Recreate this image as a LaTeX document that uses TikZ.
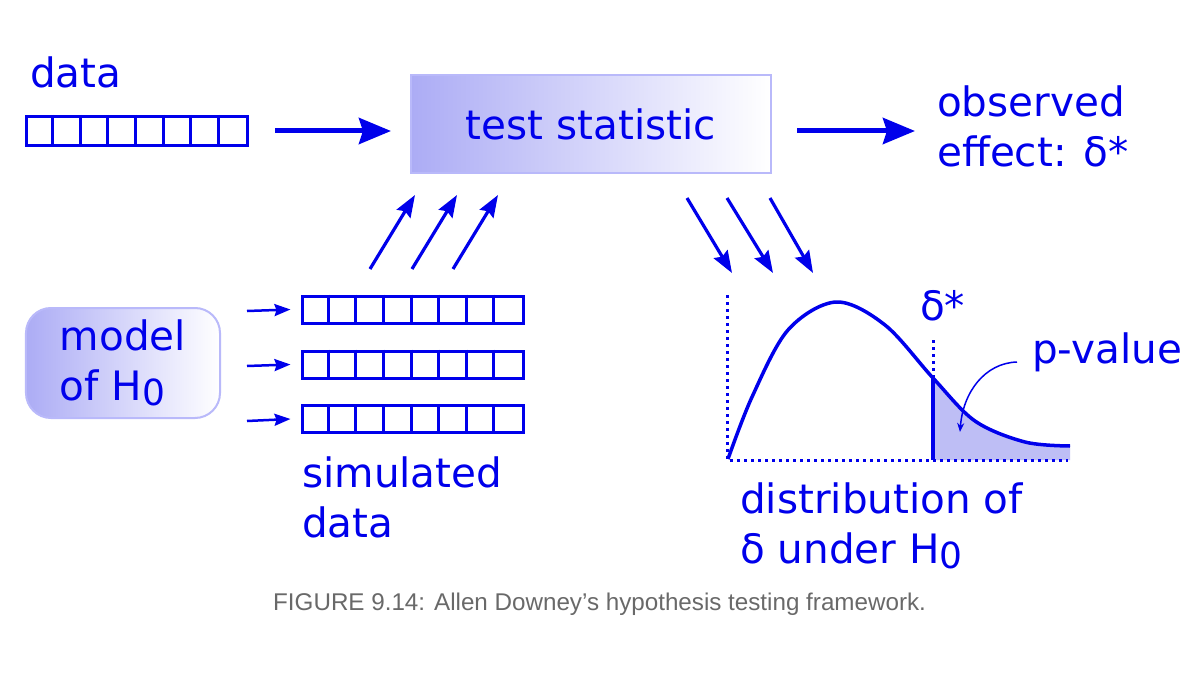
\documentclass[tikz,border=0pt]{standalone}
\usepackage{fontspec}
\setmainfont{DejaVu Sans}
\newfontfamily\capfont{Liberation Sans}
\usetikzlibrary{arrows.meta}
\definecolor{lineblue}{RGB}{0,0,235}
\definecolor{boxleft}{RGB}{172,172,245}
\definecolor{boxedge}{RGB}{185,185,250}
\definecolor{tailfill}{RGB}{190,190,245}
\definecolor{capgray}{RGB}{105,105,105}
\newcommand{\Hzero}{H\raisebox{-5bp}{\fontsize{36bp}{40bp}\selectfont 0}}
\begin{document}
\begin{tikzpicture}[x=1bp,y=-1bp,
  txt/.style={text=lineblue, font=\fontsize{40.5bp}{50bp}\selectfont, inner sep=0pt, anchor=base west, align=left},
  cellrow/.style={draw=lineblue, line width=3bp, minimum width=221bp, minimum height=27bp, inner sep=0pt},
  bigarrow/.style={draw=lineblue, line width=5bp, -{Stealth[length=32bp,width=26bp,inset=4bp]}},
  diagarrow/.style={draw=lineblue, line width=3.2bp, -{Stealth[length=22bp,width=16bp,inset=3bp]}},
  smallarrow/.style={draw=lineblue, line width=2.5bp, -{Stealth[length=16bp,width=12bp,inset=2bp]}},
  gradbox/.style={draw=boxedge, line width=2bp, left color=boxleft, right color=white, inner sep=0pt},
  dotline/.style={draw=lineblue, line width=3bp, dash pattern=on 3bp off 4bp},
  celldiv/.style={draw=lineblue, line width=3bp},
]
\useasboundingbox[fill=white] (0,0) rectangle (1200,675);

% data array
\node[txt] (datalab) at (30,88) {data};
\node[cellrow, minimum height=29bp] (data) at (137,131) {};
\foreach \i in {1,...,7}
  \draw[celldiv] ([xshift=\i*27.625bp]data.north west) -- ([xshift=\i*27.625bp]data.south west);

% test statistic
\node[gradbox, minimum width=360bp, minimum height=98bp, text=lineblue,
      font=\fontsize{40.5bp}{50bp}\selectfont, text height=32bp, text depth=0pt] (test) at (591,124) {test statistic};
\node[txt] (obs) at (937,167) {observed\\effect: δ*};

\draw[bigarrow, shorten <=26bp, shorten >=19bp] (data.east) -- (test.west |- data.east);
\draw[bigarrow, shorten <=25bp, shorten >=22bp] (test.east |- data.east) -- (obs.west |- data.east);

% model of H0
\node[gradbox, rounded corners=25bp, minimum width=194bp, minimum height=110bp, text=lineblue,
      font=\fontsize{40.5bp}{50bp}\selectfont, align=left] (model) at (123,363) {model\\of \Hzero};

% simulated arrays
\node[cellrow] (sim1) at (412.5,309.5) {};
\node[cellrow] (sim2) at (412.5,364.5) {};
\node[cellrow] (sim3) at (412.5,419) {};
\foreach \s in {sim1,sim2,sim3}
  \foreach \i in {1,...,7}
    \draw[celldiv] ([xshift=\i*27.625bp]\s.north west) -- ([xshift=\i*27.625bp]\s.south west);

\coordinate (m1) at (247,311);
\coordinate (m2) at (247,366);
\coordinate (m3) at (247,421);
\draw[smallarrow] (m1) -- ([xshift=-10bp]sim1.west);
\draw[smallarrow] (m2) -- ([xshift=-10bp]sim2.west);
\draw[smallarrow] (m3) -- ([xshift=-10bp]sim3.west);

\node[txt] (simlab) at (302,537) {simulated\\data};

% up arrows into test statistic
\coordinate (u1s) at (370,269); \coordinate (u1e) at (415,195);
\coordinate (u2s) at (412,269); \coordinate (u2e) at (457,195);
\coordinate (u3s) at (453,269); \coordinate (u3e) at (498,195);
\draw[diagarrow] (u1s) -- (u1e);
\draw[diagarrow] (u2s) -- (u2e);
\draw[diagarrow] (u3s) -- (u3e);

% down arrows out of test statistic
\coordinate (d1s) at (687,198); \coordinate (d1e) at (732,273);
\coordinate (d2s) at (727,198); \coordinate (d2e) at (773,273);
\coordinate (d3s) at (770,198); \coordinate (d3e) at (813,273);
\draw[diagarrow] (d1s) -- (d1e);
\draw[diagarrow] (d2s) -- (d2e);
\draw[diagarrow] (d3s) -- (d3e);

% distribution
\coordinate (origin) at (727,460);
\coordinate (ytop) at (727,295);
\coordinate (xend) at (1068,460);
\coordinate (dtop) at (933,340);
\coordinate (dcross) at (933,378);
\coordinate (dbase) at (933,460);
\def\curvepts{(728,459) (752,397) (788,330) (836,302) (885,325) (933,378) (975,421) (1025,442) (1070,446)}
\begin{scope}
  \clip (933,290) rectangle (1072,462);
  \fill[tailfill] plot[smooth, tension=0.55] coordinates {\curvepts} -- (1070,460) -- (727,460) -- cycle;
\end{scope}
\draw[dotline] (ytop) -- (origin) -- (xend);
\draw[lineblue, line width=3.5bp, line join=round] plot[smooth, tension=0.55] coordinates {\curvepts};
\draw[dotline] (dtop) -- (dcross);
\draw[lineblue, line width=3.5bp] (dcross) -- (dbase);

\node[txt] (dstar) at (920,320) {δ*};
\node[txt] (pval) at (1032,363) {p-value};
\coordinate (pvs) at (1017,362);
\coordinate (pve) at (960,432);
\draw[lineblue, line width=1.5bp, -{Stealth[length=9bp,width=7bp]}] (pvs) .. controls (985,363) and (963,392) .. (pve);

\node[txt] (distlab) at (740,563) {distribution of\\δ under \Hzero};

% caption
\node[font=\capfont\fontsize{24.2bp}{29bp}\selectfont, text=capgray, inner sep=0pt, anchor=base west] (cap) at (273,610) {FIGURE 9.14: Allen Downey’s hypothesis testing framework.};
\end{tikzpicture}
\end{document}
